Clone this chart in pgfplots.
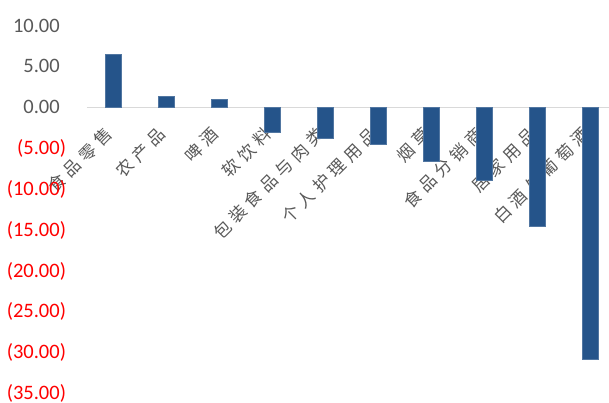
\documentclass[border=0pt]{standalone}
\usepackage{pgfplots}
\pgfplotsset{compat=1.18}
\usepackage{fontspec}
\setmainfont{Carlito}
\newfontfamily\cjk[LetterSpace=28]{Noto Sans CJK SC}
\definecolor{barblue}{RGB}{37,84,138}
\definecolor{txtgray}{RGB}{89,89,89}
\definecolor{axgray}{RGB}{217,217,217}
\definecolor{negred}{RGB}{255,0,0}
\begin{document}
\begin{tikzpicture}
\begin{axis}[
  at={(0,0)}, anchor=south west,
  scale only axis, width=522bp, height=367.3bp,
  xmin=-0.5, xmax=9.35, ymin=-35, ymax=10,
  axis x line*=middle, axis y line*=left,
  x axis line style={draw=axgray, line width=1.5bp, -},
  y axis line style={draw=none},
  xtick={0,...,9},
  xticklabels={食品零售,农产品,啤酒,软饮料,包装食品与肉类,个人护理用品,烟草,食品分销商,居家用品,白酒与葡萄酒},
  xtick style={draw=none}, ytick style={draw=none},
  ytick={-35,-30,...,10},
  yticklabels={{\textcolor{negred}{(35.00)}},{\textcolor{negred}{(30.00)}},{\textcolor{negred}{(25.00)}},{\textcolor{negred}{(20.00)}},{\textcolor{negred}{(15.00)}},{\textcolor{negred}{(10.00)}},{\textcolor{negred}{(5.00)}},{0.00\phantom{)}},{5.00\phantom{)}},{10.00\phantom{)}}},
  yticklabel style={font=\fontsize{20.5bp}{24bp}\selectfont, text=txtgray, xshift=-17.5bp, anchor=east},
  xticklabel style={font=\cjk\fontsize{17bp}{19bp}\selectfont, text=txtgray, xshift=-2bp, yshift=-21bp, rotate=45, anchor=east},
  hide obscured x ticks=false, hide obscured y ticks=false,
]
\addplot[ybar, bar width=16.3bp, fill=barblue, draw=barblue!80!white, line width=0.5bp] coordinates {(0,6.5) (1,1.4) (2,1.0) (3,-2.95) (4,-3.7) (5,-4.45) (6,-6.5) (7,-8.9) (8,-14.5) (9,-30.8)};
\end{axis}
\pgfresetboundingbox
\path[use as bounding box] (-87bp,-9.6bp) rectangle (522bp,393.4bp);
\end{tikzpicture}
\end{document}
